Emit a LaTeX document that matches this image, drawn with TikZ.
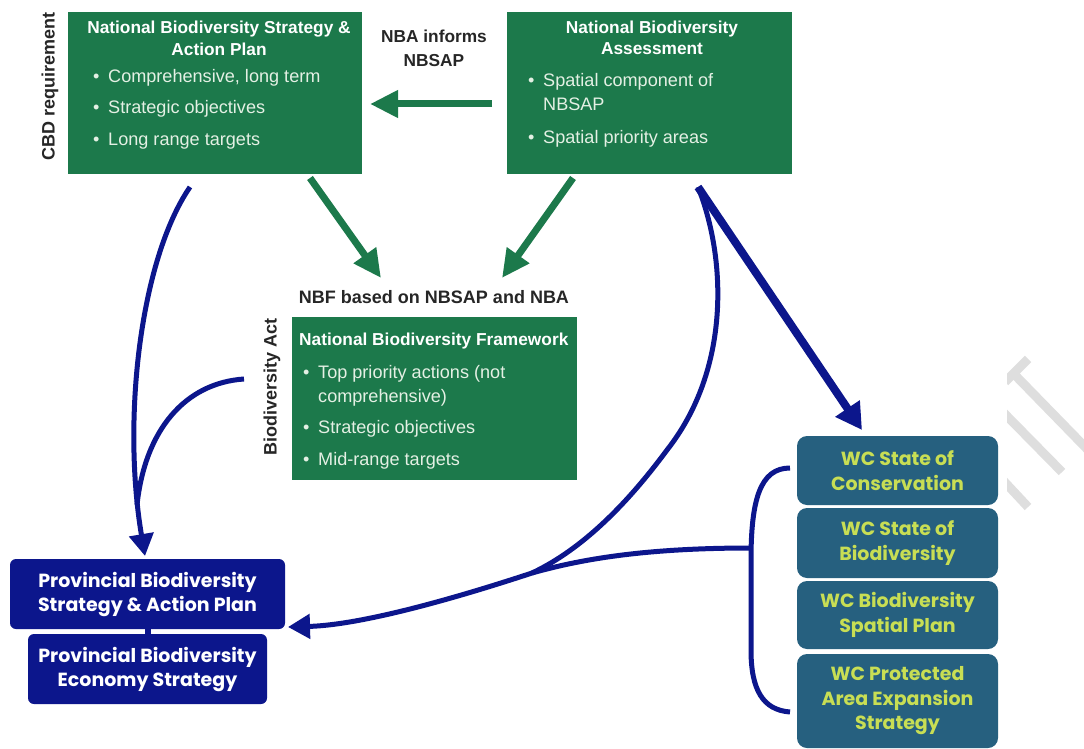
\documentclass[tikz,border=0pt]{standalone}
\usepackage{fontspec}
\setmainfont{Liberation Sans}
\newfontfamily\gothic{Poppins}
\usetikzlibrary{arrows.meta}
\definecolor{nbgreen}{RGB}{28,121,75}
\definecolor{nblight}{RGB}{228,240,228}
\definecolor{navy}{RGB}{12,22,140}
\definecolor{wcblue}{RGB}{38,96,127}
\definecolor{wctext}{RGB}{200,222,84}
\newcommand{\myitem}[2]{\makebox[#1][l]{\textbullet}#2}
\newcommand{\mycont}[2]{\makebox[#1][l]{}#2}
\begin{document}
\begin{tikzpicture}[x=1pt,y=-1pt,
  gbox/.style={fill=nbgreen,draw=none,inner sep=0pt,outer sep=0pt,anchor=north west},
  gtitle/.style={text=white,font=\bfseries\fontsize{17.3}{20}\selectfont,anchor=base,inner sep=0pt},
  gitem/.style={text=nblight,anchor=base west,inner sep=0pt,font=\fontsize{18.1}{21}\selectfont},
  lab/.style={text=black!85,font=\bfseries\fontsize{17.3}{20}\selectfont,anchor=base,inner sep=0pt},
  vlab/.style={text=black!85,font=\bfseries\fontsize{18}{20}\selectfont,rotate=90,inner sep=0pt},
  pbox/.style={fill=navy,draw=none,rounded corners=6pt,text=white,align=center,
    font=\gothic\bfseries\fontsize{19}{24}\selectfont,inner sep=0pt,outer sep=0pt,anchor=north west},
  wcbox/.style={fill=wcblue,draw=none,rounded corners=10pt,text=wctext,align=center,
    font=\gothic\bfseries\fontsize{19}{24.5}\selectfont,inner sep=0pt,outer sep=0pt,anchor=north west},
  garrow/.style={draw=nbgreen,line width=7pt,-{Triangle[length=28pt,width=26pt]}},
  barrow/.style={draw=navy,line width=5pt,-{Triangle[length=22pt,width=24pt]}},
  bline/.style={draw=navy,line width=5pt},
  wm/.style={draw=black!13,line width=9pt}]
\useasboundingbox[fill=white] (0,0) rectangle (1084,749);

% watermark strokes
\begin{scope}
\clip (1007,330) rectangle (1084,530);
\draw[wm] (1013,373) -- (1090,452);
\draw[wm] (1005,382) -- (1028,359);
\draw[wm] (1000,409) -- (1062,472);
\draw[wm] (1000,477) -- (1028,507);
\end{scope}

% green boxes
\node[gbox,minimum width=294pt,minimum height=162pt] (nbsap) at (68,12) {};
\node[gbox,minimum width=285pt,minimum height=162pt] (nba) at (507,12) {};
\node[gbox,minimum width=285pt,minimum height=163pt] (nbf) at (292,317) {};

% NBSAP text
\node[gtitle] (nbsapt1) at (219,34) {National Biodiversity Strategy \&};
\node[gtitle] (nbsapt2) at (219,56) {Action Plan};
\node[gitem] (nbsapi1) at (93,83) {\myitem{15pt}{Comprehensive, long term}};
\node[gitem] (nbsapi2) at (93,114) {\myitem{15pt}{Strategic objectives}};
\node[gitem] (nbsapi3) at (93,146) {\myitem{15pt}{Long range targets}};

% NBA text
\node[gtitle] (nbat1) at (652,34) {National Biodiversity};
\node[gtitle] (nbat2) at (652,55) {Assessment};
\node[gitem] (nbai1) at (528,87) {\myitem{15pt}{Spatial component of}};
\node[gitem] (nbai2) at (528,111) {\mycont{15pt}{NBSAP}};
\node[gitem] (nbai3) at (528,143) {\myitem{15pt}{Spatial priority areas}};

% NBF text
\node[gtitle,anchor=base west] (nbft) at (299,345) {National Biodiversity Framework};
\node[gitem] (nbfi1) at (303,378) {\myitem{15pt}{Top priority actions (not}};
\node[gitem] (nbfi2) at (303,402) {\mycont{15pt}{comprehensive)}};
\node[gitem] (nbfi3) at (303,433) {\myitem{15pt}{Strategic objectives}};
\node[gitem] (nbfi4) at (303,465) {\myitem{15pt}{Mid-range targets}};

% labels
\node[lab] (inf1) at (434,43) {NBA informs};
\node[lab] (inf2) at (434,67) {NBSAP};
\node[lab,font=\bfseries\fontsize{18}{20}\selectfont] (nbflab) at (434,303) {NBF based on NBSAP and NBA};
\node[vlab] (cbd) at (50,86) {CBD requirement};
\node[vlab] (bact) at (272,387) {Biodiversity Act};

% provincial boxes
\node[pbox,minimum width=275pt,minimum height=70pt] (pbsap) at (10,559) {Provincial Biodiversity\\Strategy \& Action Plan};
\node[pbox,minimum width=239pt,minimum height=70pt] (pbes) at (28,634) {Provincial Biodiversity\\Economy Strategy};
\draw[navy,line width=6pt] (pbsap.south -| 148,0) -- (pbes.north -| 148,0);

% WC boxes
\node[wcbox,minimum width=201pt,minimum height=69pt] (wc1) at (797,436) {WC State of\\Conservation};
\node[wcbox,minimum width=201pt,minimum height=70pt] (wc2) at (797,508) {WC State of\\Biodiversity};
\node[wcbox,minimum width=201pt,minimum height=68pt] (wc3) at (797,581) {WC Biodiversity\\Spatial Plan};
\node[wcbox,minimum width=201pt,minimum height=94pt] (wc4) at (797,654) {WC Protected\\Area Expansion\\Strategy};

% connector end points
\coordinate (nbaL) at (492,104);
\coordinate (nbsapR) at (370,104);
\coordinate (g1s) at (310,178);
\coordinate (g1e) at (381,278);
\coordinate (g2s) at (573,178);
\coordinate (g2e) at (502,278);
\coordinate (a1s) at (190,187);
\coordinate (a1e) at (145,556);
\coordinate (a2s) at (244,379);
\coordinate (a2e) at (137,505);
\coordinate (nbab) at (698,187);
\coordinate (wc1t) at (862,430);
\coordinate (pbr) at (288,627);
\coordinate (brt) at (790,468);
\coordinate (brb) at (790,712);
\coordinate (brm) at (751,548);
\coordinate (dmid) at (667,450);
\coordinate (join) at (532,573);

% green arrows
\draw[garrow] (nbaL) -- (nbsapR);
\draw[garrow] (g1s) -- (g1e);
\draw[garrow] (g2s) -- (g2e);

% blue arrows
\draw[barrow] (a1s) .. controls (140,260) and (122,420) .. (a1e);
\draw[bline] (a2s) .. controls (185,383) and (145,430) .. (a2e);
\draw[draw=navy,line width=8pt,-{Triangle[length=26pt,width=28pt]}] (nbab) -- (wc1t);
\draw[barrow] (nbab) .. controls (727,260) and (730,370) .. (dmid)
  .. controls (630,500) and (585,548) .. (join)
  .. controls (450,600) and (360,625) .. (pbr);
\draw[bline] (brm) .. controls (650,548) and (585,558) .. (join);
\draw[bline] (brt) .. controls (760,468) and (751,500) .. (751,560) -- (751,650) .. controls (751,690) and (763,710) .. (brb);
\end{tikzpicture}
\end{document}
